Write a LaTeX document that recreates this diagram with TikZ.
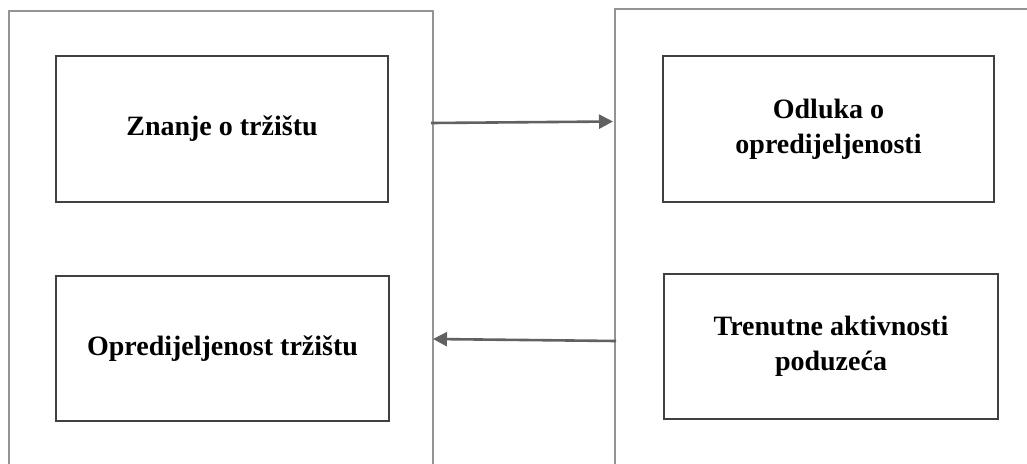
\documentclass[tikz,border=0pt]{standalone}
\usepackage{fontspec}
\setmainfont{Liberation Serif}
\usetikzlibrary{arrows.meta}
\begin{document}
\begin{tikzpicture}[x=1pt,y=-1pt,
  outerline/.style={draw=black!42,line width=1.6pt},
  innerbox/.style={draw=black!75,line width=2pt,inner sep=0pt,align=center,
    font=\fontsize{28}{35}\selectfont\bfseries},
  flow/.style={draw=black!62,line width=2.6pt,-{Triangle[length=14pt,width=14pt]}}]
\useasboundingbox (0,0) rectangle (1027,463);
% outer open frames
\coordinate (Lbl) at (9,470);
\coordinate (Ltl) at (9,11);
\coordinate (Ltr) at (433,11);
\coordinate (Lbr) at (433,470);
\coordinate (Rbl) at (615,470);
\coordinate (Rtl) at (615,9);
\coordinate (Rtr) at (1035,9);
\draw[outerline] (Lbl) -- (Ltl) -- (Ltr) -- (Lbr);
\draw[outerline] (Rbl) -- (Rtl) -- (Rtr);
% inner boxes
\node[innerbox,minimum width=332pt,minimum height=146pt] (znanje) at (222,129) {Znanje o tržištu};
\node[innerbox,minimum width=331pt,minimum height=146pt] (odluka) at (828.5,129) {Odluka o\\opredijeljenosti};
\node[innerbox,minimum width=333pt,minimum height=145pt] (opred) at (222.5,348.5) {Opredijeljenost tržištu};
\node[innerbox,minimum width=334pt,minimum height=145pt] (trenutne) at (831,346.5) {Trenutne aktivnosti\\poduzeća};
% arrows
\coordinate (a1s) at (431,123);
\coordinate (a1e) at (613,121.5);
\coordinate (a2s) at (616,341);
\coordinate (a2e) at (433,339);
\draw[flow] (a1s) -- (a1e);
\draw[flow] (a2s) -- (a2e);
\end{tikzpicture}
\end{document}
